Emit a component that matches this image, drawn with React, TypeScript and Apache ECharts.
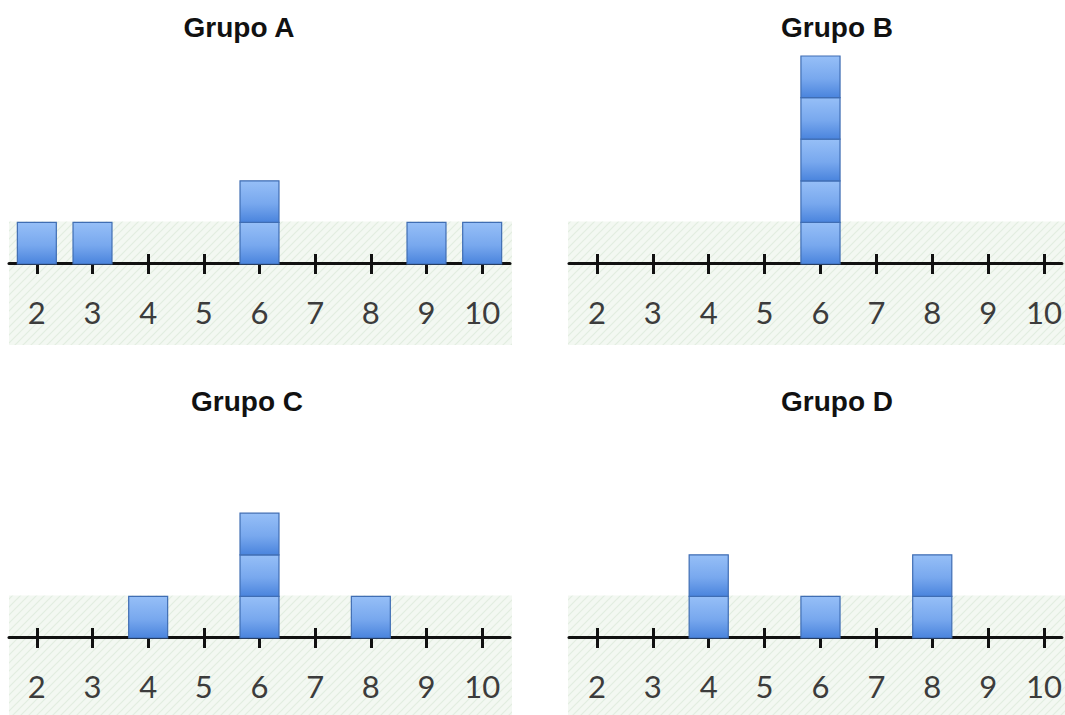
import React, { useEffect, useRef } from "react";
import * as echarts from "echarts";

// Values on the number line
const tickValues = [2, 3, 4, 5, 6, 7, 8, 9, 10];
// Number of squares stacked above each value (2..10)
const groupACounts = [1, 1, 0, 0, 2, 0, 0, 1, 1];
const groupBCounts = [0, 0, 0, 0, 5, 0, 0, 0, 0];
const groupCCounts = [0, 0, 1, 0, 3, 0, 1, 0, 0];
const groupDCounts = [0, 0, 2, 0, 1, 0, 2, 0, 0];
const groupTitles = ["Grupo A", "Grupo B", "Grupo C", "Grupo D"];

const panels = [
  { counts: groupACounts, left: 9, width: 501, min: 1.5, max: 10.5, top: 55, bandX: 9, bandW: 503, titleX: 239, titleY: 27 },
  { counts: groupBCounts, left: 569, width: 496, min: 1.5, max: 10.32, top: 55, bandX: 568, bandW: 497, titleX: 837, titleY: 27 },
  { counts: groupCCounts, left: 9, width: 501, min: 1.5, max: 10.5, top: 429, bandX: 9, bandW: 503, titleX: 247, titleY: 401 },
  { counts: groupDCounts, left: 569, width: 496, min: 1.5, max: 10.32, top: 429, bandX: 568, bandW: 497, titleX: 837, titleY: 401 },
];
const GRID_H = 208;
const Y_MAX = 5;

function buildBoxes(counts: number[]) {
  const out: number[][] = [];
  counts.forEach((c, i) => {
    for (let lv = 0; lv < c; lv++) out.push([tickValues[i], lv]);
  });
  return out;
}

export default function App() {
  const ref = useRef<HTMLDivElement>(null);
  useEffect(() => {
    if (!ref.current) return;
    const chart = echarts.init(ref.current, null, { renderer: "svg" });

    const cv = document.createElement("canvas");
    cv.width = 8;
    cv.height = 8;
    const ctx = cv.getContext("2d")!;
    ctx.fillStyle = "#f3f8f2";
    ctx.fillRect(0, 0, 8, 8);
    ctx.strokeStyle = "#e2ede0";
    ctx.lineWidth = 1.2;
    ctx.beginPath();
    ctx.moveTo(-1, 9);
    ctx.lineTo(9, -1);
    ctx.moveTo(-1, 1);
    ctx.lineTo(1, -1);
    ctx.moveTo(7, 9);
    ctx.lineTo(9, 7);
    ctx.stroke();
    const pattern: any = { image: cv, repeat: "repeat" };

    const grids: any[] = [];
    const xAxes: any[] = [];
    const yAxes: any[] = [];
    const series: any[] = [];
    const graphics: any[] = [];

    panels.forEach((p, i) => {
      grids.push({ left: p.left, width: p.width, top: p.top, height: GRID_H });
      xAxes.push({
        type: "value",
        gridIndex: i,
        min: p.min,
        max: p.max,
        position: "bottom",
        splitLine: { show: false },
        axisLine: { show: true, onZero: false, lineStyle: { color: "#111", width: 3 } },
        axisTick: { show: true, customValues: tickValues, length: 11, lineStyle: { color: "#111", width: 3 } },
        axisLabel: {
          show: true,
          customValues: tickValues,
          margin: 33,
          fontFamily: "Lato",
          fontSize: 31,
          lineHeight: 31,
          color: "#3c3c3c",
          showMinLabel: true,
          showMaxLabel: true,
        },
      });
      xAxes.push({
        type: "value",
        gridIndex: i,
        min: p.min,
        max: p.max,
        position: "bottom",
        splitLine: { show: false },
        axisLine: { show: false, onZero: false },
        axisTick: { show: true, inside: true, customValues: tickValues, length: 9, lineStyle: { color: "#111", width: 3 } },
        axisLabel: { show: false },
      });
      yAxes.push({ type: "value", gridIndex: i, min: 0, max: Y_MAX, show: false, splitLine: { show: false } });

      series.push({
        type: "custom",
        xAxisIndex: i * 2,
        yAxisIndex: i,
        z: 5,
        data: buildBoxes(p.counts),
        renderItem: (params: any, api: any) => {
          const x = api.value(0);
          const lv = api.value(1);
          const p0 = api.coord([x, lv]);
          const p1 = api.coord([x, lv + 1]);
          const w = api.size([0.7, 0])[0];
          return {
            type: "rect",
            shape: { x: p0[0] - w / 2, y: p1[1] + 1, width: w, height: p0[1] - p1[1] },
            style: {
              fill: new echarts.graphic.LinearGradient(0, 0, 0, 1, [
                { offset: 0, color: "#96bff7" },
                { offset: 0.55, color: "#78a8ee" },
                { offset: 1, color: "#4a84dd" },
              ]),
              stroke: "#3f6db3",
              lineWidth: 1.2,
            },
          };
        },
      });

      const axisY = p.top + GRID_H;
      const unit = GRID_H / Y_MAX;
      graphics.push({
        type: "rect",
        silent: true,
        z: -10,
        shape: { x: p.bandX, y: axisY - unit, width: p.bandW, height: unit + 82 },
        style: { fill: pattern },
      });
      graphics.push({
        type: "text",
        x: p.titleX,
        y: p.titleY,
        style: {
          text: groupTitles[i],
          fontFamily: "Liberation Sans",
          fontWeight: "bold",
          fontSize: 28,
          fill: "#111",
          textAlign: "center",
          textVerticalAlign: "middle",
        },
      });
    });

    chart.setOption({
      animation: false,
      backgroundColor: "#ffffff",
      grid: grids,
      xAxis: xAxes,
      yAxis: yAxes,
      series,
      graphic: graphics,
    });
    return () => chart.dispose();
  }, []);
  return (
    <div
      ref={ref}
      style={{ position: "absolute", left: 0, top: 0, width: 1065, height: 715 }}
    />
  );
}
